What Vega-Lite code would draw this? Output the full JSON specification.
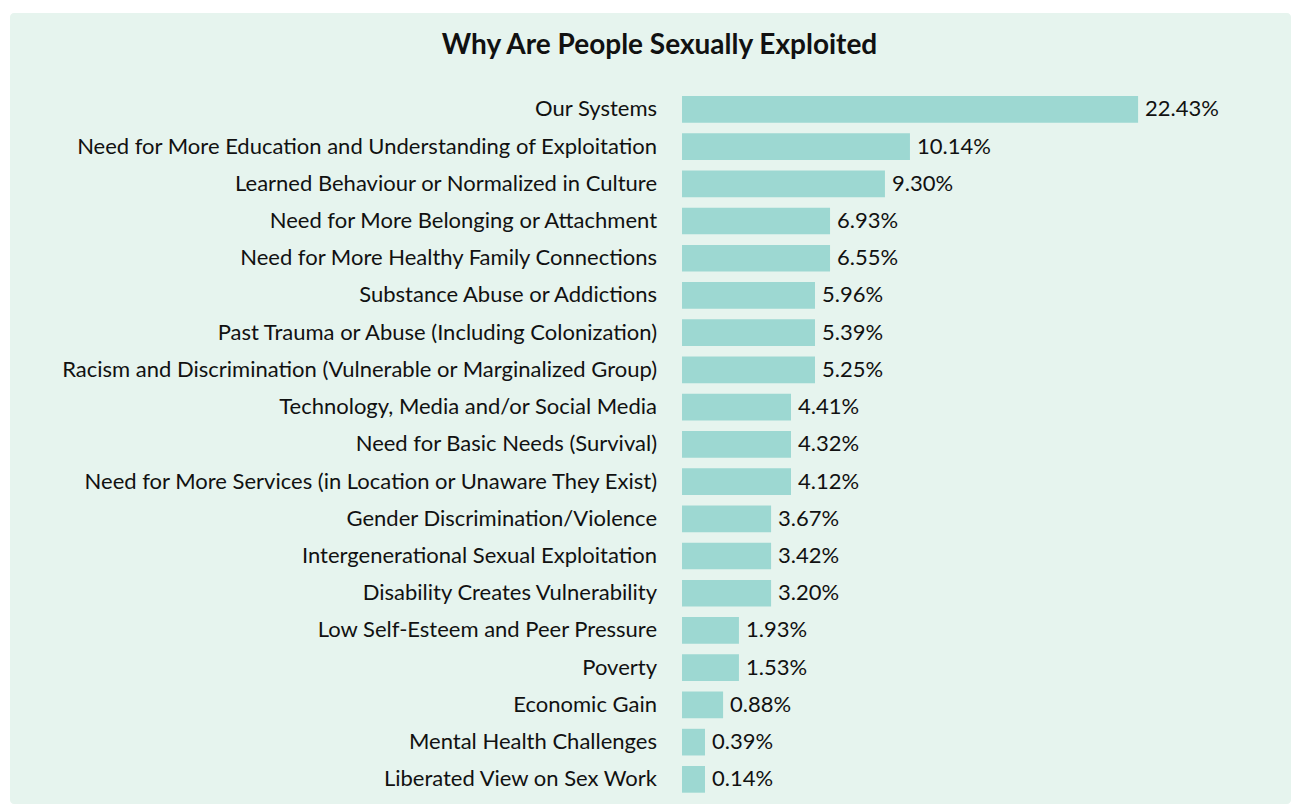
{
  "$schema": "https://vega.github.io/schema/vega-lite/v6.json",
  "width": 1281,
  "height": 791,
  "autosize": "none",
  "padding": {"left": 10, "top": 13, "right": 0, "bottom": 0},
  "background": "white",
  "config": {
    "view": {"fill": "#e6f4ee", "stroke": null, "cornerRadius": 4},
    "font": "Lato"
  },
  "title": {
    "text": "Why Are People Sexually Exploited",
    "frame": "group",
    "anchor": "middle",
    "dx": 9,
    "offset": -69,
    "baseline": "alphabetic",
    "fontSize": 28,
    "fontWeight": "bold",
    "color": "#111111",
    "font": "Lato"
  },
  "data": {
    "values": [
      {"cat": "Our Systems", "pct": 0.2243, "bar": 22.43},
      {"cat": "Need for More Education and Understanding of Exploitation", "pct": 0.1014, "bar": 11.21},
      {"cat": "Learned Behaviour or Normalized in Culture", "pct": 0.0930, "bar": 9.98},
      {"cat": "Need for More Belonging or Attachment", "pct": 0.0693, "bar": 7.28},
      {"cat": "Need for More Healthy Family Connections", "pct": 0.0655, "bar": 7.28},
      {"cat": "Substance Abuse or Addictions", "pct": 0.0596, "bar": 6.54},
      {"cat": "Past Trauma or Abuse (Including Colonization)", "pct": 0.0539, "bar": 6.54},
      {"cat": "Racism and Discrimination (Vulnerable or Marginalized Group)", "pct": 0.0525, "bar": 6.54},
      {"cat": "Technology, Media and/or Social Media", "pct": 0.0441, "bar": 5.36},
      {"cat": "Need for Basic Needs (Survival)", "pct": 0.0432, "bar": 5.36},
      {"cat": "Need for More Services (in Location or Unaware They Exist)", "pct": 0.0412, "bar": 5.36},
      {"cat": "Gender Discrimination/Violence", "pct": 0.0367, "bar": 4.38},
      {"cat": "Intergenerational Sexual Exploitation", "pct": 0.0342, "bar": 4.38},
      {"cat": "Disability Creates Vulnerability", "pct": 0.0320, "bar": 4.38},
      {"cat": "Low Self-Esteem and Peer Pressure", "pct": 0.0193, "bar": 2.80},
      {"cat": "Poverty", "pct": 0.0153, "bar": 2.80},
      {"cat": "Economic Gain", "pct": 0.0088, "bar": 2.02},
      {"cat": "Mental Health Challenges", "pct": 0.0039, "bar": 1.13},
      {"cat": "Liberated View on Sex Work", "pct": 0.0014, "bar": 1.13}
    ]
  },
  "encoding": {
    "y": {
      "field": "cat",
      "type": "nominal",
      "sort": null,
      "axis": null,
      "scale": {"range": [83, 779.7], "paddingInner": 0.283, "paddingOuter": 0}
    }
  },
  "layer": [
    {
      "mark": {"type": "bar", "color": "#9dd8d2"},
      "encoding": {
        "x": {
          "field": "bar",
          "type": "quantitative",
          "axis": null,
          "scale": {"domain": [-33.05, 29.95], "nice": false}
        }
      }
    },
    {
      "mark": {"type": "text", "align": "left", "baseline": "alphabetic", "dx": 7, "dy": 7, "fontSize": 22, "color": "#111111"},
      "encoding": {
        "x": {"field": "bar", "type": "quantitative"},
        "text": {"field": "pct", "type": "quantitative", "format": ".2%"}
      }
    },
    {
      "mark": {"type": "text", "align": "right", "baseline": "alphabetic", "dx": -25, "dy": 7, "fontSize": 22, "color": "#111111"},
      "encoding": {
        "x": {"datum": 0},
        "text": {"field": "cat", "type": "nominal"}
      }
    }
  ]
}
